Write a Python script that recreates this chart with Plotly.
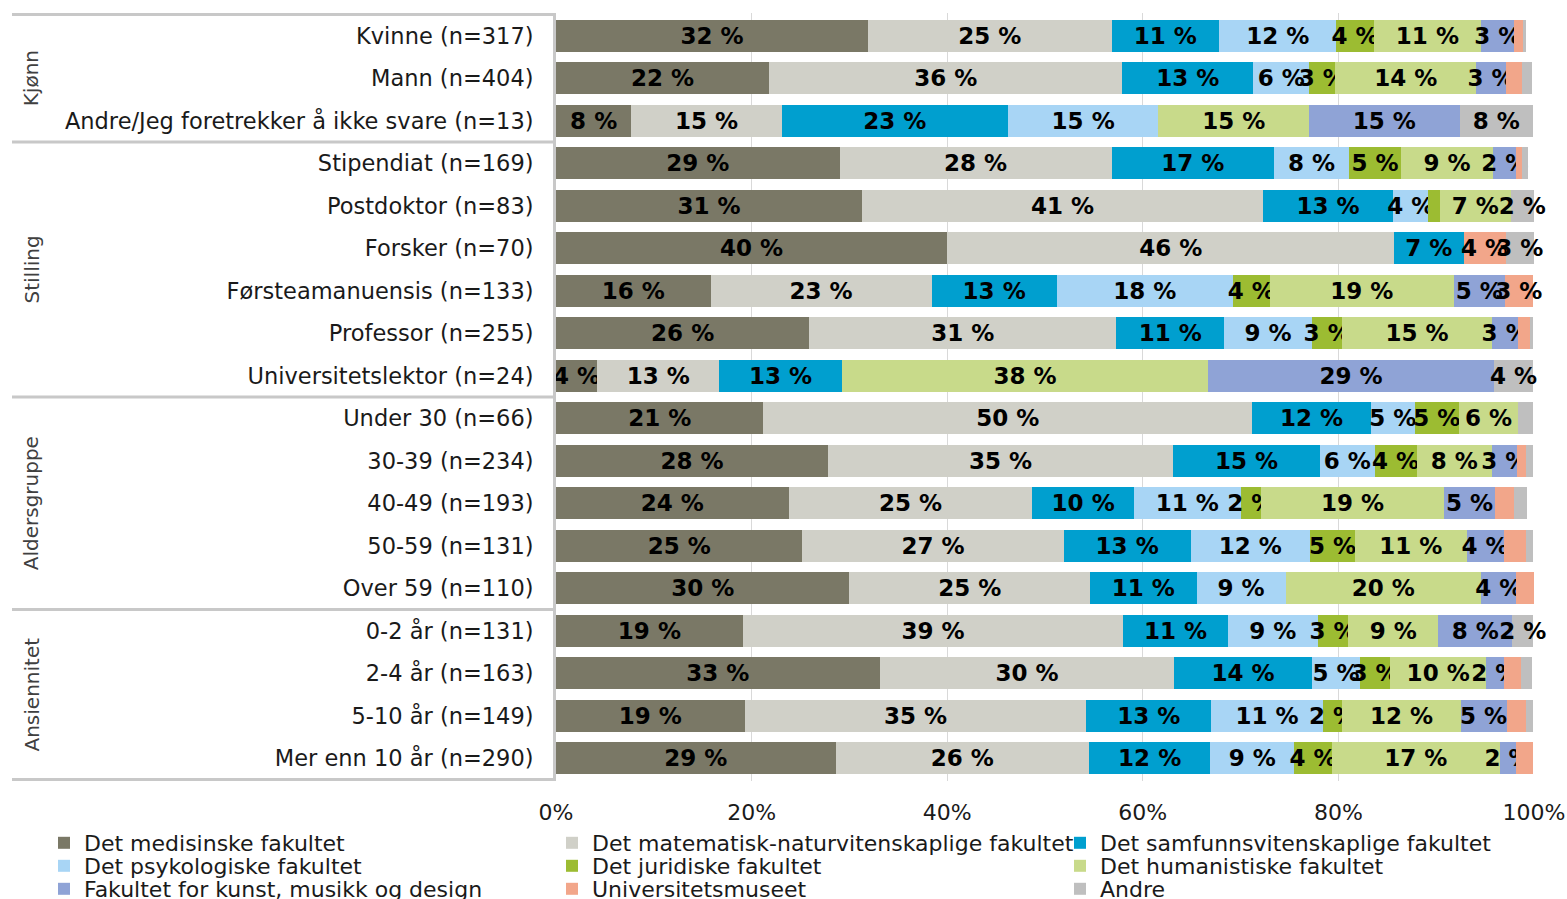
import plotly.graph_objects as go

# ---------------- data ----------------
categories = [
    "Kvinne (n=317)", "Mann (n=404)", "Andre/Jeg foretrekker å ikke svare (n=13)",
    "Stipendiat (n=169)", "Postdoktor (n=83)", "Forsker (n=70)",
    "Førsteamanuensis (n=133)", "Professor (n=255)", "Universitetslektor (n=24)",
    "Under 30 (n=66)", "30-39 (n=234)", "40-49 (n=193)", "50-59 (n=131)", "Over 59 (n=110)",
    "0-2 år (n=131)", "2-4 år (n=163)", "5-10 år (n=149)", "Mer enn 10 år (n=290)",
]
groups = ["Kjønn", "Stilling", "Aldersgruppe", "Ansiennitet"]
group_sizes = [3, 6, 5, 4]

series_names = [
    "Det medisinske fakultet",
    "Det matematisk-naturvitenskaplige fakultet",
    "Det samfunnsvitenskaplige fakultet",
    "Det psykologiske fakultet",
    "Det juridiske fakultet",
    "Det humanistiske fakultet",
    "Fakultet for kunst, musikk og design",
    "Universitetsmuseet",
    "Andre",
]

medisinske   = [31.9, 21.8, 7.7, 29.0, 31.3, 40.0, 15.8, 25.9, 4.2, 21.2, 27.8, 23.8, 25.2, 30.0, 19.1, 33.1, 19.3, 28.6]
matematisk   = [24.9, 36.1, 15.4, 27.8, 41.0, 45.7, 22.6, 31.4, 12.5, 50.0, 35.3, 24.9, 26.7, 24.6, 38.9, 30.1, 34.9, 25.9]
samfunn      = [11.0, 13.4, 23.1, 16.6, 13.3, 7.1, 12.8, 11.0, 12.5, 12.1, 15.0, 10.4, 13.0, 10.9, 10.7, 14.1, 12.8, 12.4]
psykologi    = [12.0, 5.7, 15.4, 7.7, 3.6, 0.0, 18.0, 9.0, 0.0, 4.5, 5.6, 10.9, 12.2, 9.1, 9.2, 4.9, 11.4, 8.6]
juridisk     = [3.8, 2.7, 0.0, 5.3, 1.2, 0.0, 3.8, 3.1, 0.0, 4.5, 4.3, 2.1, 4.6, 0.0, 3.1, 3.1, 2.0, 3.8]
humanistisk  = [11.0, 14.4, 15.4, 9.4, 7.2, 0.0, 18.8, 15.3, 37.5, 6.1, 7.7, 18.7, 11.4, 20.0, 9.2, 9.8, 12.1, 17.2]
kunst        = [3.4, 3.0, 15.4, 2.4, 0.0, 0.0, 5.2, 2.7, 29.2, 0.0, 2.6, 5.2, 3.8, 3.6, 7.6, 1.8, 4.7, 1.7]
museum       = [0.9, 1.7, 0.0, 0.6, 0.0, 4.3, 2.9, 1.2, 0.0, 0.0, 0.9, 2.0, 2.3, 1.8, 0.0, 1.8, 2.0, 1.7]
andre        = [0.3, 1.0, 7.5, 0.6, 2.4, 2.9, 0.0, 0.3, 4.0, 1.5, 0.7, 1.3, 0.7, 0.0, 2.1, 1.1, 0.7, 0.0]

series_values = [medisinske, matematisk, samfunn, psykologi, juridisk,
                 humanistisk, kunst, museum, andre]

x_ticks = [0, 20, 40, 60, 80, 100]
x_ticktext = [f"{v}%" for v in x_ticks]

# ---------------- style ----------------
colors = ["#7a7866", "#d0d0c8", "#009fcf", "#a8d5f5", "#9cbc32",
          "#c8da8a", "#8fa3d6", "#f2a68a", "#bfbfbf"]
label_min = [1.6, 1.6, 1.6, 1.6, 1.6, 1.6, 1.6, 2.5, 1.6]
legend_row = ["legend", "legend", "legend",
              "legend2", "legend2", "legend2",
              "legend3", "legend3", "legend3"]
legend_row_centers_px = [843, 866, 889]

FONT = "DejaVu Sans, Verdana, sans-serif"
W, H = 1567, 899
ML, MR, MT, MB = 556, 33, 13, 118
PW = W - ML - MR
PH = H - MT - MB


def px_to_paper_x(px):
    return (px - ML) / PW


def px_to_paper_y(py):
    return (H - MB - py) / PH


def fmt(v, thr):
    return f"{int(v + 0.5)} %" if v >= thr else ""


fig = go.Figure()
for name, vals, col, thr, lg in zip(series_names, series_values, colors, label_min, legend_row):
    fig.add_trace(go.Bar(
        name=name, y=categories, x=vals, orientation="h",
        marker=dict(color=col, line=dict(width=0)),
        text=[fmt(v, thr) for v in vals],
        textposition="inside", insidetextanchor="middle", textangle=0,
        textfont=dict(family=FONT, size=23, color="#000000", weight="bold"),
        cliponaxis=False, hoverinfo="x+y+name", legend=lg,
    ))

# group separator lines and group labels
shapes = []
annotations = []
start = 0
bounds = [-0.5]
for g, n in zip(groups, group_sizes):
    end = start + n
    bounds.append(end - 0.5)
    annotations.append(dict(
        text=g, textangle=-90, xref="paper", yref="y",
        x=px_to_paper_x(31), y=(start + end - 1) / 2,
        showarrow=False, xanchor="center", yanchor="middle",
        font=dict(family=FONT, size=20, color="#404040"),
    ))
    start = end
for b in bounds:
    shapes.append(dict(
        type="line", xref="paper", yref="y",
        x0=px_to_paper_x(12), x1=px_to_paper_x(555), y0=b, y1=b,
        line=dict(color="#c8c8c8", width=3),
    ))

legend_common = dict(
    orientation="h", x=px_to_paper_x(44), xanchor="left", yanchor="middle",
    entrywidth=463, entrywidthmode="pixels",
    font=dict(family=FONT, size=22, color="#1a1a1a"),
    traceorder="normal", itemwidth=30, bgcolor="rgba(0,0,0,0)",
)

fig.update_layout(
    width=W, height=H,
    margin=dict(l=ML, r=MR, t=MT, b=MB, pad=0, autoexpand=False),
    barmode="stack", bargap=0.25,
    plot_bgcolor="white", paper_bgcolor="white",
    font=dict(family=FONT, size=20, color="#1a1a1a"),
    uniformtext=dict(minsize=23, mode="show"),
    shapes=shapes, annotations=annotations,
    legend=dict(legend_common, y=px_to_paper_y(legend_row_centers_px[0])),
    legend2=dict(legend_common, y=px_to_paper_y(legend_row_centers_px[1])),
    legend3=dict(legend_common, y=px_to_paper_y(legend_row_centers_px[2])),
    xaxis=dict(
        range=[0, 100], tickvals=x_ticks, ticktext=x_ticktext,
        showgrid=True, gridcolor="#d9d9d9", gridwidth=1,
        zeroline=False, showline=False, ticks="",
        tickfont=dict(family=FONT, size=22, color="#1a1a1a"),
        ticklabelstandoff=16, fixedrange=True,
    ),
    yaxis=dict(
        type="category", autorange="reversed",
        showline=True, linecolor="#c8c8c8", linewidth=3,
        showgrid=False, ticks="", ticklabelstandoff=15,
        tickfont=dict(family=FONT, size=22.5, color="#1a1a1a"),
        fixedrange=True,
    ),
)

fig.write_html("out.html", config={"displayModeBar": False},
               post_script="document.body.style.margin='0';")
